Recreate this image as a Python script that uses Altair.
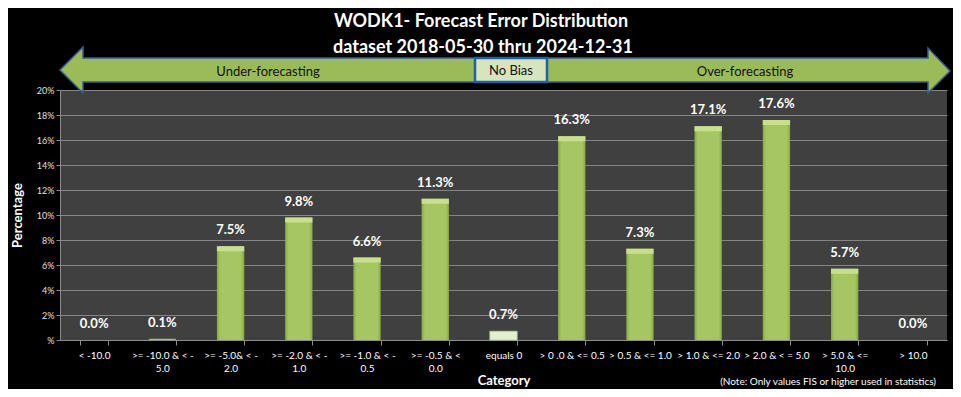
import altair as alt
import pandas as pd

categories = [
    "< -10.0",
    ">= -10.0 & < -|5.0",
    ">= -5.0& < -|2.0",
    ">= -2.0 & < -|1.0",
    ">= -1.0 & < -|0.5",
    ">= -0.5 & <|0.0",
    "equals 0",
    "> 0 .0 & <= 0.5",
    "> 0.5 & <= 1.0",
    "> 1.0 & <= 2.0",
    "> 2.0 & < = 5.0",
    "> 5.0 & <=|10.0",
    "> 10.0",
]
percentages = [0.0, 0.1, 7.5, 9.8, 6.6, 11.3, 0.7, 16.3, 7.3, 17.1, 17.6, 5.7, 0.0]
is_zero_bias = [c == "equals 0" for c in categories]
y_ticks = [0, 2, 4, 6, 8, 10, 12, 14, 16, 18, 20]

title_lines = ["WODK1- Forecast Error Distribution", "dataset 2018-05-30  thru 2024-12-31"]
title_x = [481, 483]
title_y = [22, 48]

# Annotation arrow (page-pixel space of the chart)
arrow_x = [60, 83, 83, 928, 928, 950]
arrow_top = [70, 47, 58, 58, 48, 71]
arrow_bot = [70, 93, 82, 82, 93, 71]
arrow_labels = ["Under-forecasting", "No  Bias", "Over-forecasting"]
arrow_label_x = [268, 511, 745]
arrow_label_y = [72, 71, 72]
nobias_box = {"x": 475, "x2": 547, "y": 58, "y2": 82}
note_text = ["(Note: Only values FIS or higher used in statistics)"]

df = pd.DataFrame({"cat": categories, "pct": percentages, "zero": is_zero_bias})
arrow_df = pd.DataFrame({"x": arrow_x, "y": arrow_top, "y2": arrow_bot})
lab_df = pd.DataFrame({"t": arrow_labels, "x": arrow_label_x, "y": arrow_label_y})
box_df = pd.DataFrame([nobias_box])
title_df = pd.DataFrame({"t": title_lines, "x": title_x, "y": title_y})

W, H = 887, 250
PX = alt.Scale(domain=[60, 947], nice=False, zero=False)
PY = alt.Scale(domain=[340, 90], nice=False, zero=False)

xaxis = alt.Axis(
    title="Category",
    labelExpr="split(datum.label, '|')",
    labelAngle=0,
    labelColor="#FFFFFF",
    labelFontSize=10,
    labelFont="Lato",
    labelLineHeight=13,
    labelPadding=5,
    tickBand="extent",
    tickColor="#8C8C8C",
    tickSize=5,
    domainColor="#8C8C8C",
    titleColor="#FFFFFF",
    titleFont="Lato",
    titleFontSize=13,
    titleFontWeight="bold",
    titlePadding=1,
    grid=False,
)
yaxis = alt.Axis(
    title="Percentage",
    values=y_ticks,
    labelOverlap=False,
    labelExpr="datum.value == 0 ? '%' : datum.value + '%'",
    labelColor="#E0E0E0",
    labelFontSize=9,
    labelFont="Lato",
    tickColor="#8C8C8C",
    tickSize=4,
    domainColor="#8C8C8C",
    gridColor="#858585",
    gridWidth=1.2,
    titleColor="#FFFFFF",
    titleFont="Lato",
    titleFontSize=13,
    titleFontWeight="bold",
    titlePadding=12,
)


def X(axis=None):
    return alt.X("cat:N", sort=categories,
                 scale=alt.Scale(domain=categories, paddingInner=0.6, paddingOuter=0.3), axis=axis)


def Y(field, axis=None):
    return alt.Y(field, scale=alt.Scale(domain=[0, 20], nice=False), axis=axis)


bar_fill = alt.Gradient(
    gradient="linear", x1=0, x2=1, y1=0, y2=0,
    stops=[
        alt.GradientStop(color="#88AA44", offset=0),
        alt.GradientStop(color="#A5C662", offset=0.12),
        alt.GradientStop(color="#A5C662", offset=0.88),
        alt.GradientStop(color="#88AA44", offset=1),
    ],
)

bars = alt.Chart(df).transform_filter("!datum.zero").mark_bar(fill=bar_fill).encode(
    x=X(xaxis), y=Y("pct:Q", yaxis)
)
bars0 = alt.Chart(df).transform_filter("datum.zero").mark_bar(
    color="#E4EED0", stroke="#B9CF8E", strokeWidth=0.8
).encode(x=X(), y=Y("pct:Q"))
bevel = alt.Chart(df).transform_filter("datum.pct > 0.3 && !datum.zero").transform_calculate(
    top="datum.pct", bot="datum.pct - 0.4"
).mark_bar(color="#C8E08E").encode(x=X(), y=Y("top:Q"), y2="bot:Q")
labels = alt.Chart(df).transform_calculate(
    lbl="format(datum.pct, '.1f') + '%'"
).mark_text(
    color="#FFFFFF", fontSize=13, fontWeight="bold", font="Lato", dy=-9, baseline="bottom"
).encode(x=X(), y=Y("pct:Q"), text="lbl:N")

arrow = alt.Chart(arrow_df).mark_area(
    color="#9BBB59", stroke="#385D8A", strokeWidth=1.5, interpolate="linear", orient="vertical"
).encode(
    x=alt.X("x:Q", scale=PX, axis=None),
    y=alt.Y("y:Q", scale=PY, axis=None),
    y2="y2:Q",
)
box = alt.Chart(box_df).mark_rect(fill="#D7E4BD", stroke="#1F60A8", strokeWidth=2.5).encode(
    x=alt.X("x:Q", scale=PX, axis=None), x2="x2:Q",
    y=alt.Y("y:Q", scale=PY, axis=None), y2="y2:Q",
)
alabels = alt.Chart(lab_df).mark_text(color="#111111", fontSize=13, font="Lato").encode(
    x=alt.X("x:Q", scale=PX, axis=None),
    y=alt.Y("y:Q", scale=PY, axis=None),
    text="t:N",
)
titles = alt.Chart(title_df).mark_text(color="#FFFFFF", fontSize=18, font="Lato", fontWeight="bold").encode(
    x=alt.X("x:Q", scale=PX, axis=None),
    y=alt.Y("y:Q", scale=PY, axis=None),
    text="t:N",
)
note = alt.Chart(pd.DataFrame({"t": note_text, "x": [936], "y": [382]})).mark_text(
    color="#FFFFFF", fontSize=10, font="Lato", align="right"
).encode(
    x=alt.X("x:Q", scale=PX, axis=None),
    y=alt.Y("y:Q", scale=PY, axis=None),
    text="t:N",
)

chart = alt.layer(bars, bevel, bars0, labels, arrow, box, alabels, titles, note).resolve_scale(
    x="independent", y="independent"
).properties(
    width=W,
    height=H,
    autosize=alt.AutoSizeParams(type="none"),
    padding={"left": 52, "top": 82, "right": 6, "bottom": 49},
    background="#000000",
).configure_view(fill="#404040", stroke=None)

chart.save("out.html", embed_options={"renderer": "svg", "actions": False})
